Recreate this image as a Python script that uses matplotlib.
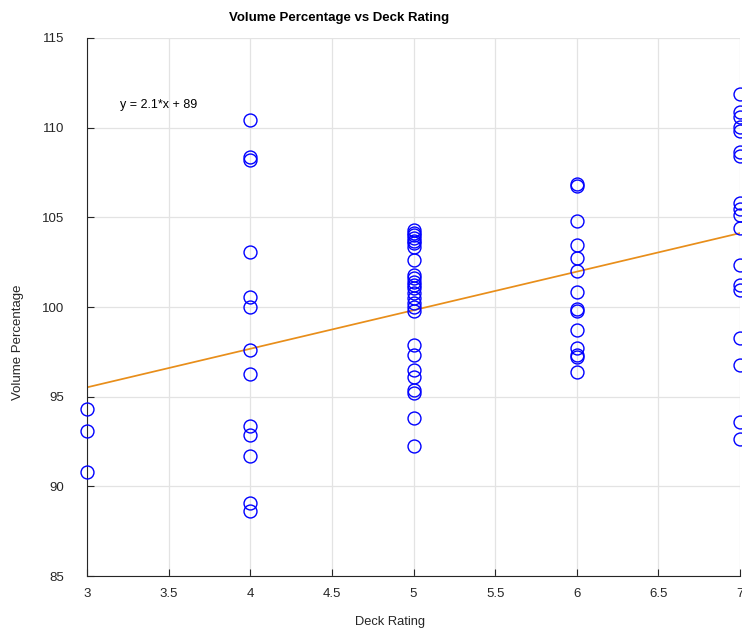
import matplotlib
matplotlib.use("Agg")
import matplotlib.pyplot as plt

plt.rcParams['font.family'] = ['Liberation Sans', 'DejaVu Sans']

# volume percentage readings grouped by deck rating
ratings = [3, 4, 5, 6, 7]
vol_3 = [94.3, 93.1, 90.8]
vol_4 = [110.4, 108.35, 108.2, 103.05, 100.55, 100.0, 97.6, 96.25, 93.35,
         92.85, 91.7, 89.05, 88.6]
vol_5 = [104.3, 104.15, 104.0, 103.85, 103.7, 103.55, 103.35, 102.6, 101.8,
         101.6, 101.4, 101.2, 101.05, 100.8, 100.5, 100.25, 100.0, 99.8,
         97.9, 97.3, 96.5, 96.1, 95.35, 95.2, 93.8, 92.25]
vol_6 = [106.85, 106.75, 104.8, 103.45, 102.75, 102.0, 100.85, 99.9, 99.8,
         98.7, 97.7, 97.3, 97.2, 96.35]
vol_7 = [111.85, 110.9, 110.6, 110.05, 109.8, 108.65, 108.4, 105.8, 105.45,
         105.15, 104.4, 102.35, 101.25, 100.95, 98.25, 96.75, 93.6, 92.65]
groups = [vol_3, vol_4, vol_5, vol_6, vol_7]

# fitted line as drawn
fit_slope = 2.15
fit_intercept = 89.07
fit_label = 'y = 2.1*x + 89'

xticks = [3, 3.5, 4, 4.5, 5, 5.5, 6, 6.5, 7]
xticklabels = ['3', '3.5', '4', '4.5', '5', '5.5', '6', '6.5', '7']
yticks = [85, 90, 95, 100, 105, 110, 115]

x_all = []
y_all = []
for r, vals in zip(ratings, groups):
    x_all += [r] * len(vals)
    y_all += vals

fig = plt.figure(figsize=(7.42, 6.31), dpi=100)
ax = fig.add_axes([87 / 742, 55 / 631, 653 / 742, 538 / 631])

ax.plot(x_all, y_all, 'o', markersize=9.3, markerfacecolor='none',
        markeredgecolor='#0000ff', markeredgewidth=1.0, clip_on=False, zorder=3)

fx = [3, 7]
fy = [fit_slope * v + fit_intercept for v in fx]
ax.plot(fx, fy, color='#e88e1a', linewidth=1.25, zorder=2)

ax.text(3.2, 111.25, fit_label, fontsize=9, color='black', va='center')

ax.set_xlim(3, 7)
ax.set_ylim(85, 115)
ax.set_xticks(xticks)
ax.set_xticklabels(xticklabels)
ax.set_yticks(yticks)
ax.grid(True, color='#e3e3e3', linewidth=0.9)
ax.set_axisbelow(True)
ax.tick_params(direction='in', length=5, width=0.8, colors='#262626',
               labelsize=9.5)
ax.tick_params(axis='x', pad=8.5)
ax.tick_params(axis='y', pad=16.5)
ax.spines['top'].set_visible(False)
ax.spines['right'].set_visible(False)
ax.spines['left'].set_color('#262626')
ax.spines['bottom'].set_color('#262626')

fig.text(339 / 742, 1 - 18 / 631, 'Volume Percentage vs Deck Rating',
         fontsize=9.5, fontweight='bold', ha='center', va='center')
fig.text(390 / 742, 1 - 622 / 631, 'Deck Rating', fontsize=9.3,
         ha='center', va='center', color='#262626')
fig.text(18 / 742, 1 - 342 / 631, 'Volume Percentage', fontsize=9.5,
         ha='center', va='center', rotation=90, color='#262626')

fig.savefig('out.png', dpi=100)
